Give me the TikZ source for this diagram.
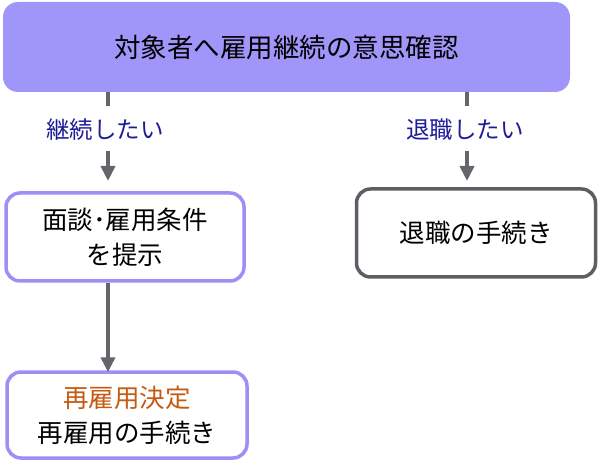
\documentclass[tikz,border=0pt]{standalone}
\usepackage{fontspec}
\setmainfont{Noto Sans CJK JP}
\usetikzlibrary{arrows.meta}
\definecolor{topfill}{HTML}{A095F9}
\definecolor{lav}{HTML}{9C90F7}
\definecolor{grayb}{HTML}{5E5E64}
\definecolor{arr}{HTML}{65656A}
\definecolor{navy}{HTML}{1C1C99}
\definecolor{orng}{HTML}{C55A11}
\tikzset{
  box/.style={draw, line width=3.5pt, rounded corners=14pt, fill=white, align=center, inner sep=0pt, font=\fontsize{25.5}{35}\selectfont},
  conn/.style={draw=arr, line width=4pt},
  arrline/.style={draw=arr, line width=4pt, -{Triangle[length=15pt,width=14pt]}},
  lbl/.style={text=navy, font=\fontsize{23.5}{26}\selectfont}
}
\begin{document}
\begin{tikzpicture}[x=1pt,y=-1pt]
\useasboundingbox (0,0) rectangle (600,465);
\node[fill=topfill, rounded corners=15pt, minimum width=567pt, minimum height=90pt, inner sep=0pt, font=\fontsize{26.5}{30}\selectfont] (top) at (286.5,47) {対象者へ雇用継続の意思確認};
\node[box, draw=lav, minimum width=238pt, minimum height=88pt] (b2) at (125,237) {面談･雇用条件\\を提示};
\node[box, draw=grayb, minimum width=239pt, minimum height=88pt] (b3) at (476,233) {退職の手続き};
\node[box, draw=lav, minimum width=240pt, minimum height=86pt] (b4) at (127,415) {\textcolor{orng}{再雇用決定}\\再雇用の手続き};
\node[lbl] (l1) at (105,130) {継続したい};
\node[lbl] (l2) at (465,130) {退職したい};
\coordinate (a1) at (108,106);
\coordinate (a2) at (108,151);
\coordinate (a3) at (108,181);
\coordinate (r1) at (467,106);
\coordinate (r2) at (467,151);
\coordinate (r3) at (467,181);
\draw[conn] (top.south -| a1) -- (a1);
\draw[arrline] (a2) -- (a3);
\draw[conn] (top.south -| r1) -- (r1);
\draw[arrline] (r2) -- (r3);
\draw[arrline] (b2.south -| a1) -- ([yshift=-2pt]b4.north -| a1);
\end{tikzpicture}
\end{document}
